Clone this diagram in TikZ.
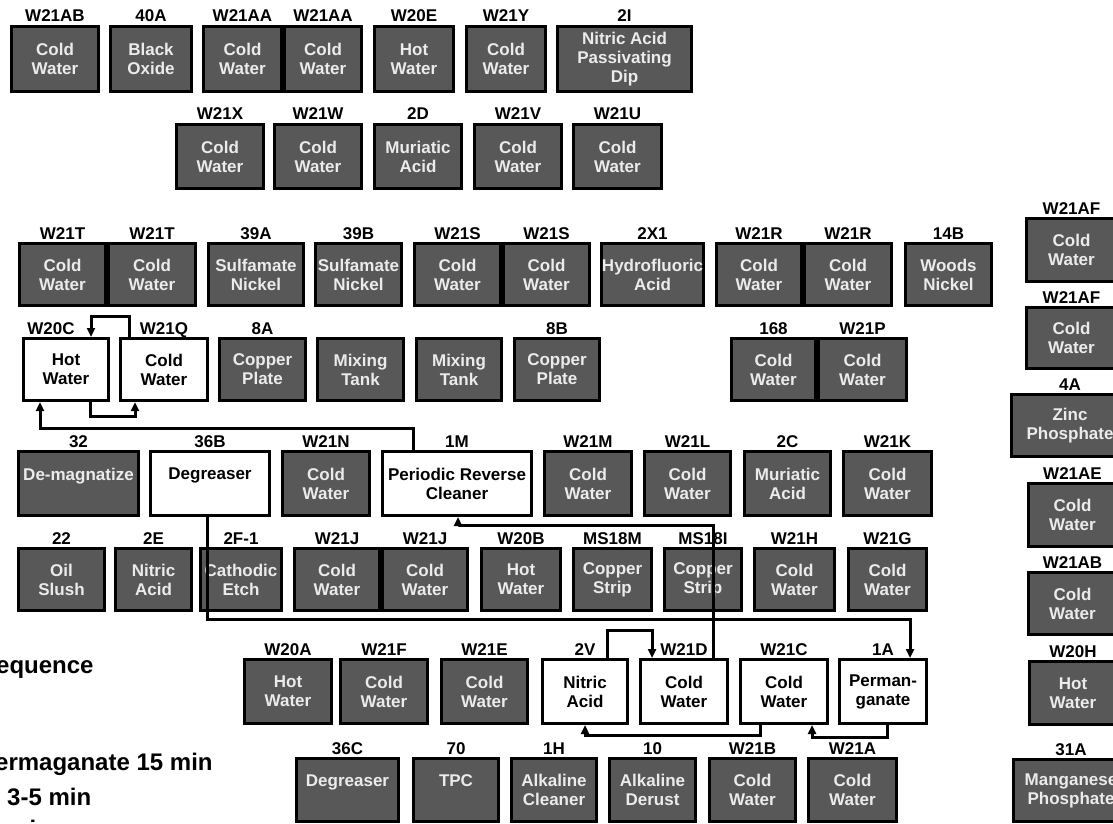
\documentclass[tikz,border=0pt]{standalone}
\usepackage{fontspec}
\setmainfont{Liberation Sans}
\usetikzlibrary{arrows.meta}
\definecolor{shade}{RGB}{88,88,88}
\definecolor{paletext}{RGB}{235,235,235}
\newcommand\labfont{\bfseries\fontsize{17}{17}\selectfont}
\newcommand\boxfont{\bfseries\fontsize{17}{19}\selectfont}
\newcommand\sidefont{\bfseries\fontsize{24}{24}\selectfont}
% #1 style, #2 name, #3 x1, #4 y1, #5 x2, #6 y2, #7 label, #8 text
\newcommand\tnk[8]{%
  \node[#1, minimum width={#5-#3-3}, minimum height={#6-#4-3}] (#2) at ({(#3+#5)/2},{(#4+#6)/2}) {#8};
  \node[lab] (#2-l) at ({(#3+#5)/2},{#4-3}) {#7};
}
\newcommand\tnkn[7]{%
  \node[#1, minimum width={#5-#3-3}, minimum height={#6-#4-3}] (#2) at ({(#3+#5)/2},{(#4+#6)/2}) {#7};
}
\tikzset{
  box/.style={rectangle, draw=black, line width=3pt, inner sep=0pt, align=center, font=\boxfont},
  dark/.style={box, fill=shade, text=paletext},
  light/.style={box, fill=white, text=black},
  lab/.style={anchor=base, inner sep=0pt, font=\labfont},
  side/.style={anchor=base west, inner sep=0pt, font=\sidefont},
  flow/.style={line width=3pt, -{Triangle[length=9pt,width=8pt]}},
}
\begin{document}
\begin{tikzpicture}[x=1pt,y=-1pt]
\useasboundingbox (0,0) rectangle (1113,824);
\clip (0,0) rectangle (1113,824);
\fill[white] (0,0) rectangle (1113,824);
% Row 1
\tnk{dark}{w21aba}{10}{25}{100}{93}{W21AB}{Cold\\Water}
\tnk{dark}{t40a}{109}{25}{193}{93}{40A}{Black\\Oxide}
\tnk{dark}{w21aaa}{202}{25}{283}{93}{W21AA}{Cold\\Water}
\tnk{dark}{w21aab}{283}{25}{363}{93}{W21AA}{Cold\\Water}
\tnk{dark}{w20e}{373}{25}{455}{93}{W20E}{Hot\\Water}
\tnk{dark}{w21y}{465}{25}{547}{93}{W21Y}{Cold\\Water}
\tnk{dark}{t2i}{556}{25}{693}{93}{2I}{Nitric Acid\\Passivating\\Dip}
% Row 2
\tnk{dark}{w21x}{175}{123}{265}{190}{W21X}{Cold\\Water}
\tnk{dark}{w21w}{273}{123}{363}{190}{W21W}{Cold\\Water}
\tnk{dark}{t2d}{373}{123}{463}{190}{2D}{Muriatic\\Acid}
\tnk{dark}{w21v}{473}{123}{563}{190}{W21V}{Cold\\Water}
\tnk{dark}{w21u}{572}{123}{663}{190}{W21U}{Cold\\Water}
% Row 3
\tnk{dark}{w21ta}{18}{242}{107}{307}{W21T}{Cold\\Water}
\tnk{dark}{w21tb}{107}{242}{197}{307}{W21T}{Cold\\Water}
\tnk{dark}{t39a}{207}{242}{305}{307}{39A}{Sulfamate\\Nickel}
\tnk{dark}{t39b}{314}{242}{403}{307}{39B}{Sulfamate\\Nickel}
\tnk{dark}{w21sa}{413}{242}{502}{307}{W21S}{Cold\\Water}
\tnk{dark}{w21sb}{502}{242}{591}{307}{W21S}{Cold\\Water}
\tnk{dark}{t2x1}{600}{242}{705}{307}{2X1}{Hydrofluoric\\Acid}
\tnk{dark}{w21ra}{715}{242}{803}{307}{W21R}{Cold\\Water}
\tnk{dark}{w21rb}{803}{242}{893}{307}{W21R}{Cold\\Water}
\tnk{dark}{t14b}{904}{242}{993}{307}{14B}{Woods\\Nickel}
% Row 4
\tnkn{light}{w20c}{22}{337}{110}{402}{Hot\\Water}
\node[lab] (w20c-l) at (51,334) {W20C};
\tnk{light}{w21q}{119}{337}{209}{402}{W21Q}{Cold\\Water}
\tnk{dark}{t8a}{218}{337}{307}{402}{8A}{Copper\\Plate}
\tnkn{dark}{mixa}{316}{337}{405}{402}{Mixing\\Tank}
\tnkn{dark}{mixb}{415}{337}{503}{402}{Mixing\\Tank}
\tnk{dark}{t8b}{513}{337}{601}{402}{8B}{Copper\\Plate}
\tnk{dark}{t168}{730}{337}{817}{402}{168}{Cold\\Water}
\tnk{dark}{w21p}{817}{337}{908}{402}{W21P}{Cold\\Water}
% Row 5
\tnk{dark}{t32}{17}{450}{140}{517}{32}{De-magnatize\\\phantom{X}}
\tnk{light}{t36b}{149}{450}{271}{517}{36B}{Degreaser\\\phantom{X}}
\tnk{dark}{w21n}{281}{450}{371}{517}{W21N}{Cold\\Water}
\tnk{light}{t1m}{381}{450}{533}{517}{1M}{Periodic Reverse\\Cleaner}
\tnk{dark}{w21m}{543}{450}{633}{517}{W21M}{Cold\\Water}
\tnk{dark}{w21l}{643}{450}{732}{517}{W21L}{Cold\\Water}
\tnk{dark}{t2c}{743}{450}{832}{517}{2C}{Muriatic\\Acid}
\tnk{dark}{w21k}{842}{450}{933}{517}{W21K}{Cold\\Water}
% Row 6
\tnk{dark}{t22}{17}{547}{106}{612}{22}{Oil\\Slush}
\tnk{dark}{t2e}{114}{547}{193}{612}{2E}{Nitric\\Acid}
\tnk{dark}{t2f}{199}{547}{283}{612}{2F-1}{Cathodic\\Etch}
\tnk{dark}{w21ja}{293}{547}{381}{612}{W21J}{Cold\\Water}
\tnk{dark}{w21jb}{381}{547}{469}{612}{W21J}{Cold\\Water}
\tnk{dark}{w20b}{480}{547}{562}{612}{W20B}{Hot\\Water}
\tnk{dark}{ms18m}{572}{547}{653}{612}{MS18M}{Copper\\Strip}
\tnk{dark}{ms18i}{663}{547}{743}{612}{MS18I}{Copper\\Strip}
\tnk{dark}{w21h}{753}{547}{836}{612}{W21H}{Cold\\Water}
\tnk{dark}{w21g}{847}{547}{928}{612}{W21G}{Cold\\Water}
% Row 7
\tnk{dark}{w20a}{243}{658}{333}{725}{W20A}{Hot\\Water}
\tnk{dark}{w21f}{339}{658}{429}{725}{W21F}{Cold\\Water}
\tnk{dark}{w21e}{440}{658}{529}{725}{W21E}{Cold\\Water}
\tnk{light}{t2v}{541}{658}{629}{725}{2V}{Nitric\\Acid}
\tnk{light}{w21d}{639}{658}{729}{725}{W21D}{Cold\\Water}
\tnk{light}{w21c}{739}{658}{829}{725}{W21C}{Cold\\Water}
\tnk{light}{t1a}{838}{658}{928}{725}{1A}{Perman-\\ganate}
% Row 8
\tnk{dark}{t36c}{295}{757}{400}{823}{36C}{Degreaser\\\phantom{X}}
\tnk{dark}{t70}{412}{757}{500}{823}{70}{TPC\\\phantom{X}}
\tnk{dark}{t1h}{510}{757}{598}{823}{1H}{Alkaline\\Cleaner}
\tnk{dark}{t10}{608}{757}{697}{823}{10}{Alkaline\\Derust}
\tnk{dark}{w21b}{708}{757}{797}{823}{W21B}{Cold\\Water}
\tnk{dark}{w21a}{807}{757}{898}{823}{W21A}{Cold\\Water}
% Right column
\tnk{dark}{w21afa}{1025}{217}{1118}{283}{W21AF}{Cold\\Water}
\tnk{dark}{w21afb}{1025}{306}{1118}{370}{W21AF}{Cold\\Water}
\tnk{dark}{t4a}{1010}{393}{1130}{458}{4A}{Zinc\\Phosphate}
\tnk{dark}{w21ae}{1027}{482}{1118}{548}{W21AE}{Cold\\Water}
\tnk{dark}{w21abb}{1027}{571}{1118}{636}{W21AB}{Cold\\Water}
\tnk{dark}{w20h}{1028}{660}{1118}{726}{W20H}{Hot\\Water}
\tnk{dark}{t31a}{1012}{758}{1130}{823}{31A}{Manganese\\Phosphate}
% Side text (cut off at the left edge, as in the reference)
\node[side] (s1) at (-4,673) {equence};
\node[side] (s2) at (-5,770) {ermaganate 15 min};
\node[side] (s3) at (7,805) {3-5 min};
\node[side] (s4) at (8,837) {min};
% Connectors
\draw[flow] ([xshift=-35pt]w21q.north) -- ++(0,-21) -| ([xshift=25pt]w20c.north);
\draw[flow] ([xshift=24pt]w20c.south) -- ++(0,14) -| ([xshift=-29pt]w21q.south);
\draw[flow] ([xshift=-44pt]t1m.north) -- ++(0,-22) -| ([xshift=-26pt]w20c.south);
\draw[flow] ([xshift=-3pt]t36b.south) -- ++(0,102) -| ([xshift=27pt]t1a.north);
\draw[flow] ([xshift=29pt]w21d.north) -- ++(0,-133) -| ([xshift=1pt]t1m.south);
\draw[flow] ([xshift=22pt]t2v.north) -- ++(0,-28) -| ([xshift=-32pt]w21d.north);
\draw[flow] ([xshift=4pt]t1a.south) -- ++(0,12) -| ([xshift=28pt]w21c.south);
\draw[flow] ([xshift=-24pt]w21c.south) -- ++(0,10) -| (t2v.south);
\end{tikzpicture}
\end{document}
